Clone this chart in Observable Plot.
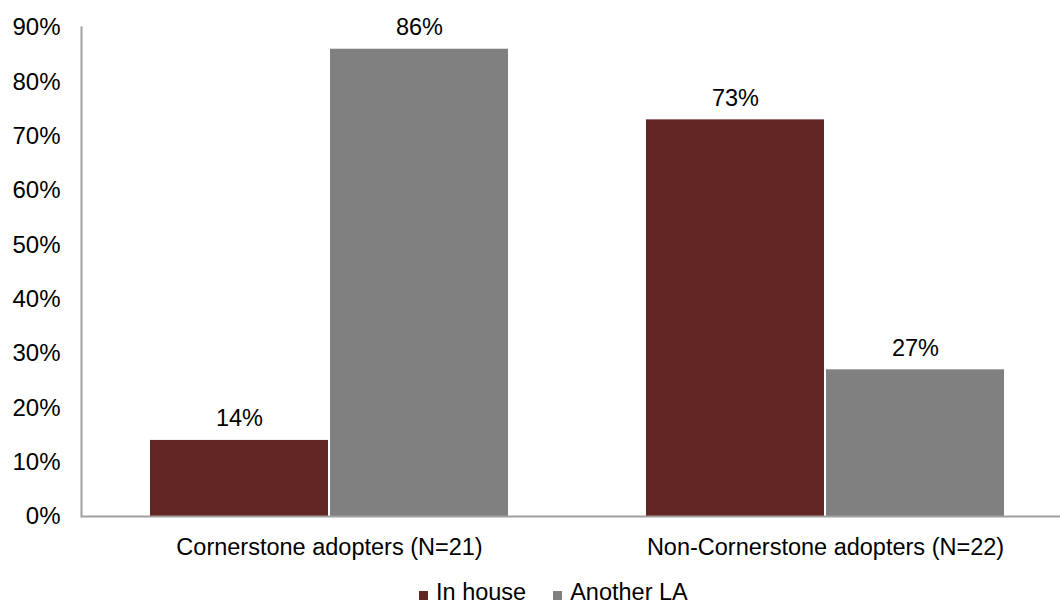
<!DOCTYPE html>
<html>
<head>
<meta charset="utf-8">
<script src="https://cdn.jsdelivr.net/npm/d3@7"></script>
<script src="https://cdn.jsdelivr.net/npm/@observablehq/plot@0.6"></script>
<style>
  html, body { margin: 0; padding: 0; background: #fff; }
  body { width: 1060px; height: 606px; overflow: hidden; position: relative; font-family: "Liberation Sans", Arial, sans-serif; }
  #legend { position: absolute; left: 419px; top: 581px; display: flex; align-items: center; font-size: 23.5px; line-height: 1; color: #000; height: 24px; }
  .item { display: flex; align-items: center; margin-right: 27px; }
  .sw { width: 9px; height: 9px; margin-right: 8px; position: relative; top: 2px; }
</style>
</head>
<body>
<div id="chart"></div>
<div id="legend"></div>
<script>
const categories = ["Cornerstone adopters (N=21)", "Non-Cornerstone adopters (N=22)"];
const series = ["In house", "Another LA"];
const inHouse = [0.14, 0.73];
const anotherLA = [0.86, 0.27];
const yTicks = [0, 0.1, 0.2, 0.3, 0.4, 0.5, 0.6, 0.7, 0.8, 0.9];
const colors = ["#632523", "#808080"];

const rows = [];
categories.forEach((c, i) => {
  rows.push({group: c, series: series[0], value: inHouse[i]});
  rows.push({group: c, series: series[1], value: anotherLA[i]});
});
const A = rows.filter(d => d.series === series[0]);
const B = rows.filter(d => d.series === series[1]);
const fmt = d3.format(".0%");

const plot = Plot.plot({
  width: 1060,
  height: 575,
  marginTop: 27,
  marginBottom: 59,
  marginLeft: 81,
  marginRight: 0,
  style: {fontFamily: "'Liberation Sans', Arial, sans-serif", fontSize: "23.5px", color: "#000", background: "#fff", overflow: "visible"},
  x: {domain: categories, range: [81, 1073], padding: 0, round: false},
  y: {domain: [0, 0.9], ticks: yTicks},
  marks: [
    Plot.barY(A, {x: "group", y: "value", fill: colors[0], insetLeft: 69, insetRight: 249}),
    Plot.barY(B, {x: "group", y: "value", fill: colors[1], insetLeft: 249, insetRight: 69}),
    Plot.text(A, {x: "group", y: "value", text: d => fmt(d.value), dx: -90, dy: -14, lineAnchor: "bottom", fill: "#000"}),
    Plot.text(B, {x: "group", y: "value", text: d => fmt(d.value), dx: 90, dy: -14, lineAnchor: "bottom", fill: "#000"}),
    Plot.ruleY([0], {stroke: "#a0a0a0", strokeWidth: 2}),
    Plot.frame({anchor: "left", stroke: "#a0a0a0", strokeWidth: 2}),
    Plot.axisY({ticks: yTicks, tickSize: 0, tickPadding: 21, tickFormat: fmt, label: null, fontSize: 24}),
    Plot.axisX({tickSize: 0, tickPadding: 22, label: null})
  ]
});
document.getElementById("chart").appendChild(plot);

const legend = document.getElementById("legend");
series.forEach((s, i) => {
  const it = document.createElement("div");
  it.className = "item";
  it.innerHTML = `<span class="sw" style="background:${colors[i]}"></span><span>${s}</span>`;
  legend.appendChild(it);
});
</script>
</body>
</html>
